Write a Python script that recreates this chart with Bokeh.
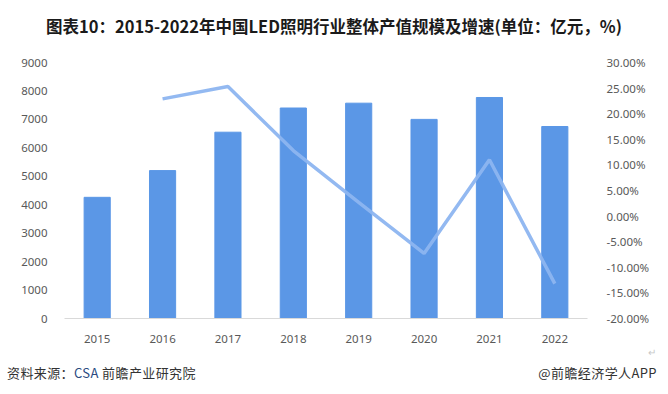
from bokeh.plotting import figure
from bokeh.models import (Range1d, LinearAxis, FactorRange, FixedTicker, PrintfTickFormatter,
                          ColumnDataSource, Div)
from bokeh.layouts import column
from bokeh.embed import file_html
from bokeh.resources import INLINE

years = ["2015", "2016", "2017", "2018", "2019", "2020", "2021", "2022"]
output_value = [4260, 5200, 6550, 7400, 7570, 7000, 7770, 6750]
growth_years = ["2016", "2017", "2018", "2019", "2020", "2021", "2022"]
growth_rate = [22.9, 25.3, 12.8, 2.7, -7.3, 11.0, -13.2]
left_ticks = [0, 1000, 2000, 3000, 4000, 5000, 6000, 7000, 8000, 9000]
right_ticks = [-20, -15, -10, -5, 0, 5, 10, 15, 20, 25, 30]

title_text = "图表10：2015-2022年中国LED照明行业整体产值规模及增速(单位：亿元，%)"
source_prefix = "资料来源："
source_org = "CSA"
source_rest = " 前瞻产业研究院"
brand_text = "@前瞻经济学人APP"

W = 668
TITLE_H, FIG_H, FOOT_H = 50, 300, 44
cjk = "'Noto Sans CJK SC'"

title_div = Div(width=W, height=TITLE_H, margin=(0, 0, 0, 0),
                text=f'<div style="width:{W}px;text-align:center;font-family:{cjk};'
                     f'font-weight:bold;font-size:16.5px;color:#1a1a1a;'
                     f'padding-top:14px;line-height:24px;white-space:nowrap;">{title_text}</div>')

p = figure(width=W, height=FIG_H, x_range=FactorRange(*years, range_padding=0),
           y_range=Range1d(0, 9000), output_backend="svg", toolbar_location=None,
           min_border_left=64, min_border_right=81, min_border_top=12, min_border_bottom=32,
           margin=(0, 0, 0, 0))
p.outline_line_color = None
p.grid.grid_line_color = None
p.background_fill_color = "white"
p.border_fill_color = "white"

bar_src = ColumnDataSource(dict(x=years, top=output_value))
p.vbar(x="x", top="top", width=0.4, source=bar_src, color="#5B97E6")

p.extra_y_ranges = {"pct": Range1d(-20, 30)}
line_src = ColumnDataSource(dict(x=growth_years, y=growth_rate))
p.line(x="x", y="y", source=line_src, y_range_name="pct", line_color="#8DB5F0",
       line_width=3.5, line_alpha=0.95)

tick_font = "Noto Sans"
ya = p.yaxis[0]
ya.ticker = FixedTicker(ticks=left_ticks)
ya.axis_line_color = None
ya.major_tick_line_color = None
ya.minor_tick_line_color = None
ya.major_label_standoff = 11
ya.major_label_text_font = tick_font
ya.major_label_text_font_size = "11.5px"
ya.major_label_text_color = "#595959"

ra = LinearAxis(y_range_name="pct", ticker=FixedTicker(ticks=right_ticks),
                formatter=PrintfTickFormatter(format="%.2f%%"))
ra.axis_line_color = None
ra.major_tick_line_color = None
ra.minor_tick_line_color = None
ra.major_label_standoff = 13
ra.major_label_text_font = tick_font
ra.major_label_text_font_size = "11.5px"
ra.major_label_text_color = "#595959"
p.add_layout(ra, "right")

xa = p.xaxis[0]
xa.axis_line_color = "#D9D9D9"
xa.axis_line_width = 1
xa.major_tick_line_color = None
xa.minor_tick_line_color = None
xa.major_label_standoff = 10
xa.major_label_text_font = tick_font
xa.major_label_text_font_size = "11.5px"
xa.major_label_text_color = "#595959"

foot_div = Div(width=W, height=FOOT_H, margin=(0, 0, 0, 0),
               text=f'<div style="position:relative;box-sizing:border-box;width:{W}px;height:{FOOT_H}px;'
                    f'display:flex;justify-content:space-between;'
                    f'font-family:{cjk};font-size:13px;letter-spacing:0.4px;color:#333333;'
                    f'padding:0 11px 0 7px;line-height:18px;white-space:nowrap;">'
                    f'<span style="position:absolute;right:12px;top:-7px;font-size:10px;color:#c8c8c8;">↵</span>'
                    f'<span style="margin-top:14px;">{source_prefix}<span style="color:#2a4a80;">{source_org}</span>{source_rest}</span>'
                    f'<span style="margin-top:14px;">{brand_text}</span></div>')

layout = column(title_div, p, foot_div, spacing=0, margin=(0, 0, 0, 0))
open("out.html", "w").write(file_html(layout, INLINE))
